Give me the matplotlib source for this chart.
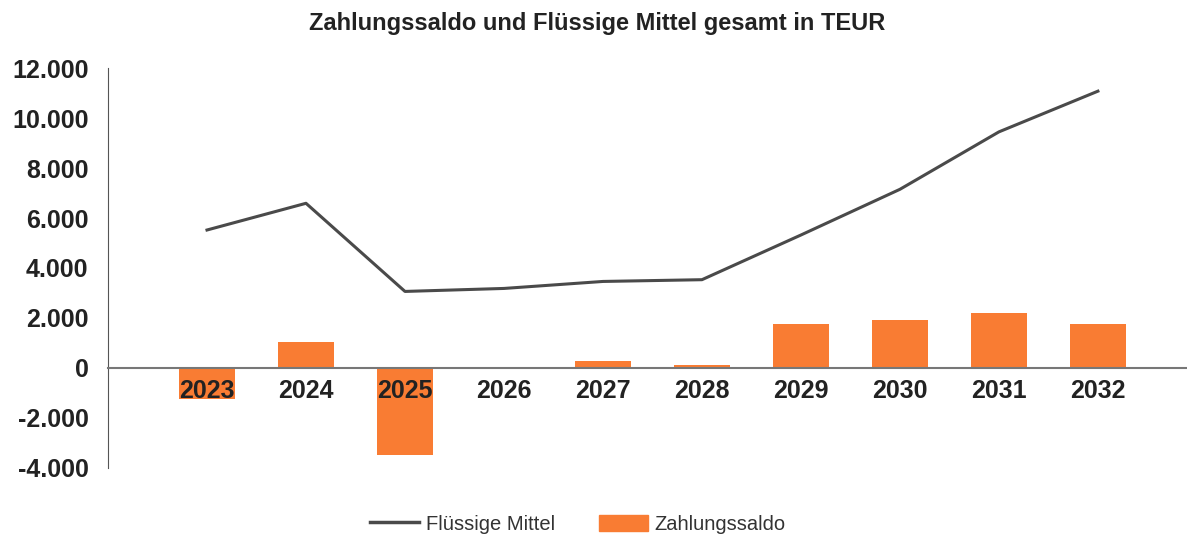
import numpy as np
import matplotlib.pyplot as plt
from matplotlib.ticker import FuncFormatter
from matplotlib.lines import Line2D
from matplotlib.patches import Patch

plt.rcParams['font.family'] = ['Liberation Sans', 'DejaVu Sans']

# Werte in TEUR
jahre = ['2023', '2024', '2025', '2026', '2027', '2028', '2029', '2030', '2031', '2032']
zahlungssaldo = [-1250, 1030, -3500, 50, 280, 120, 1750, 1900, 2180, 1750]
fluessige_mittel = [5520, 6590, 3060, 3180, 3460, 3530, 5320, 7150, 9450, 11080]

orange = '#F97C33'
grau = '#4a4a4a'

fig = plt.figure(figsize=(11.87, 5.37), dpi=100)
ax = fig.add_axes([0.091, 0.129, 0.909, 0.744])

x = np.arange(len(jahre))
ax.bar(x, zahlungssaldo, width=0.57, color=orange, zorder=1)
ax.plot(x, fluessige_mittel, color=grau, lw=2.2, zorder=2)

ax.set_xlim(-1, 9.9)
ax.set_ylim(-4000, 12000)
ax.set_yticks(np.arange(-4000, 12001, 2000))
ax.yaxis.set_major_formatter(FuncFormatter(lambda v, p: f"{v:,.0f}".replace(',', '.')))

ax.set_xticks(x)
ax.set_xticklabels(jahre)
ax.spines['bottom'].set_position(('data', 0))
ax.spines['bottom'].set_color('#777777')
ax.spines['bottom'].set_linewidth(1.5)
ax.spines['left'].set_color('#555555')
ax.spines['top'].set_visible(False)
ax.spines['right'].set_visible(False)
ax.tick_params(axis='x', length=0, pad=8, labelsize=18, labelcolor='#222222')
ax.tick_params(axis='y', length=0, pad=14, labelsize=18, labelcolor='#222222')
for lab in ax.get_xticklabels() + ax.get_yticklabels():
    lab.set_fontweight('bold')

fig.suptitle('Zahlungssaldo und Flüssige Mittel gesamt in TEUR', x=0.503, y=0.977,
             fontsize=17, fontweight='bold', color='#222222')

handles = [Line2D([], [], color=grau, lw=2.5), Patch(color=orange)]
fig.legend(handles, ['Flüssige Mittel', 'Zahlungssaldo'], loc='lower center',
           bbox_to_anchor=(0.487, -0.028), ncol=2, frameon=False, fontsize=14.5,
           handlelength=2.4, handleheight=0.9, handletextpad=0.35, columnspacing=2.2,
           labelcolor='#333333')

fig.savefig('out.png', dpi=100)
